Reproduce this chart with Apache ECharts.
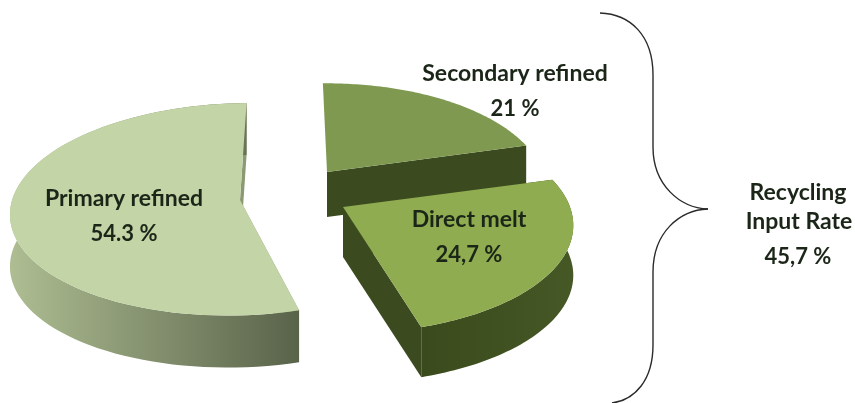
<!DOCTYPE html>
<html>
<head>
<meta charset="utf-8">
<style>
	html, body { margin: 0; padding: 0; background: #fff; }
	#chart { width: 855px; height: 403px; }
</style>
<script src="https://cdn.jsdelivr.net/npm/echarts@6/dist/echarts.min.js"></script>
</head>
<body>
<div id="chart"></div>
<script>
var categories = ['Primary refined', 'Secondary refined', 'Direct melt'];
var shares = [54.3, 21, 24.7];
var shareLabels = ['54.3 %', '21 %', '24,7 %'];
var recyclingLines = ['Recycling', 'Input Rate', '45,7 %'];

// look of each slice, drawn in this order (back to front)
var sliceStyle = [
	{ apex: [240, 200], lean: 7, tilt: 0.087, sx: 1.02, sy: 0.995, depth: 52, top: '#c3d4a7', side: ['#aebd92', '#59634a'], cut: '#8b9a72', labelX: 124, labelY: [199, 234] },
	// this one only shows its front cut, the rim faces away
	{ apex: [327, 172], lean: -5, tilt: 0.16, sx: 0.96, sy: 0.97, depth: 45, top: '#7f9a50', side: ['#3d4c20', '#3d4c20'], cut: '#3b4a1f', labelX: 515, labelY: [74, 109], backFacing: true },
	{ apex: [343, 207], lean: -6, tilt: 0.16, sx: 1.01, sy: 1, depth: 50, top: '#8fac50', side: ['#3a4a1c', '#465826'], cut: '#3c4a20', labelX: 469, labelY: [220, 255] }
];

// turns the flat pie into the tilted one
var axisY = -106;
var axisB = [224, -2];
var firstStart = shares[1] + shares[2];
var nameFont = 'bold 23px Lato, "Open Sans", sans-serif';
var shareFont = 'bold 22px Lato, "Open Sans", sans-serif';

function rimPoint(style, percent, drop) {
	var t = percent / 100 * Math.PI * 2;
	var c = Math.cos(t), s = Math.sin(t);
	var w = 1 / (1 + style.tilt * c);
	return [
		style.apex[0] + (style.lean * c + axisB[0] * s) * w * style.sx,
		style.apex[1] + (axisY * c + axisB[1] * s) * w * style.sy + drop
	];
}

function renderSlice(params, api) {
	var i = params.dataIndex;
	var style = sliceStyle[i];
	var start = firstStart;
	for (var k = 0; k < i; k++) {
		start += shares[k];
	}
	var end = start + api.value(0);
	var depth = style.depth;
	var topRim = [], lowRim = [];
	for (var n = 0; n <= 80; n++) {
		var p = start + (end - start) * n / 80;
		topRim.push(rimPoint(style, p, 0));
		lowRim.push(rimPoint(style, p, depth));
	}
	var a = style.apex;
	var first = topRim[0], last = topRim[80];
	var children = [];
	if (!style.backFacing) {
		children.push({
			type: 'polygon',
			shape: { points: [a, first, lowRim[0], [a[0], a[1] + depth]] },
			style: { fill: style.cut }
		}, {
			type: 'polygon',
			shape: { points: topRim.concat(lowRim.slice().reverse()) },
			style: {
				fill: new echarts.graphic.LinearGradient(0, 0, 1, 0, [
					{ offset: 0, color: style.side[0] },
					{ offset: 1, color: style.side[1] }
				])
			}
		});
	}
	children.unshift({
		type: 'polygon',
		shape: { points: [a, last, lowRim[80], [a[0], a[1] + depth]] },
		style: { fill: style.cut }
	});
	children.push({
		type: 'polygon',
		shape: { points: [a].concat(topRim) },
		style: { fill: style.top }
	}, {
		type: 'text',
		style: { text: categories[i], x: style.labelX, y: style.labelY[0], fill: '#1b2618', font: nameFont, align: 'center', verticalAlign: 'middle' }
	}, {
		type: 'text',
		style: { text: shareLabels[i], x: style.labelX, y: style.labelY[1], fill: '#1b2618', font: shareFont, align: 'center', verticalAlign: 'middle' }
	});
	return { type: 'group', children: children };
}

function braceCurve(x1, y1, cpx1, cpy1, cpx2, cpy2, x2, y2) {
	return {
		type: 'bezierCurve',
		shape: { x1: x1, y1: y1, cpx1: cpx1, cpy1: cpy1, cpx2: cpx2, cpy2: cpy2, x2: x2, y2: y2 },
		style: { fill: null, stroke: '#2a2a2a', lineWidth: 1.4 }
	};
}

function braceLine(x1, y1, x2, y2) {
	return {
		type: 'line',
		shape: { x1: x1, y1: y1, x2: x2, y2: y2 },
		style: { stroke: '#2a2a2a', lineWidth: 1.4 }
	};
}

function sideText(text, font, x, y) {
	return {
		type: 'text', x: x, y: y,
		style: { text: text, fill: '#1b2618', font: font, align: 'center', verticalAlign: 'middle' }
	};
}

var myChart = echarts.init(document.getElementById('chart'));
var option = {
	animation: false,
	backgroundColor: '#fff',
	graphic: [
		braceCurve(600, 13, 630, 14, 653, 35, 653, 75),
		braceLine(653, 75, 653, 147),
		braceCurve(653, 147, 653, 185, 680, 208, 708, 209),
		braceCurve(708, 209, 680, 210, 653, 232, 653, 272),
		braceLine(653, 272, 653, 345),
		braceCurve(653, 345, 653, 380, 635, 400, 612, 403),
		sideText(recyclingLines[0], nameFont, 798, 193),
		sideText(recyclingLines[1], nameFont, 799, 222),
		sideText(recyclingLines[2], shareFont, 798, 257)
	],
	series: [{
		type: 'custom',
		coordinateSystem: 'none',
		renderItem: renderSlice,
		data: shares.map(function(v) { return [v]; })
	}]
};
myChart.setOption(option);
</script>
</body>
</html>
